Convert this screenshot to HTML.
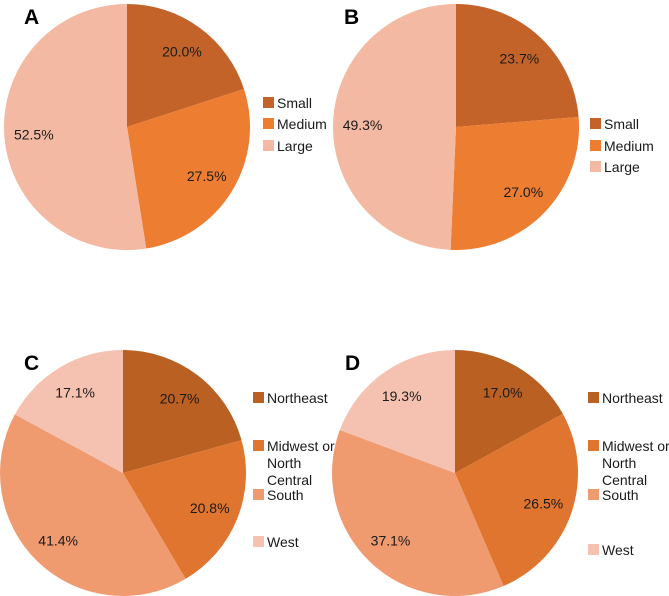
<!DOCTYPE html>
<html><head><meta charset="utf-8"><style>
html,body{margin:0;padding:0;background:#fff;}
svg{display:block;font-family:"Liberation Sans",Arial,sans-serif;}
</style></head><body>
<svg id="chart" width="669" height="596" viewBox="0 0 669 596"></svg>
<script>
const sizeCategories = ["Small","Medium","Large"];
const valuesA = [20.0, 27.5, 52.5];
const valuesB = [23.7, 27.0, 49.3];
const regionCategories = ["Northeast","Midwest or North Central","South","West"];
const valuesC = [20.7, 20.8, 41.4, 17.1];
const valuesD = [17.0, 26.5, 37.1, 19.3];
const sizeColors = ["#C3632A","#ED7D31","#F4B9A2"];
const regionColors = ["#B96022","#E07530","#F09A70","#F5C2B2"];

const NS="http://www.w3.org/2000/svg";
const svg=document.getElementById('chart');
function mk(tag,attrs,parent){const e=document.createElementNS(NS,tag);for(const k in attrs)e.setAttribute(k,attrs[k]);(parent||svg).appendChild(e);return e;}

const panels=[
 {id:"a",letter:"A",lx:24,ly:24,cx:127,cy:127,r:123,vals:valuesA,cats:sizeCategories,cols:sizeColors,legX:263,legY:[103,124,146]},
 {id:"b",letter:"B",lx:344,ly:24,cx:456,cy:127,r:123,vals:valuesB,cats:sizeCategories,cols:sizeColors,legX:590,legY:[124,146,167]},
 {id:"c",letter:"C",lx:24,ly:370,cx:123,cy:473,r:123,vals:valuesC,cats:regionCategories,cols:regionColors,legX:253,legY:[398,446,495,542]},
 {id:"d",letter:"D",lx:345,ly:370,cx:455,cy:473,r:123,vals:valuesD,cats:regionCategories,cols:regionColors,legX:588,legY:[398,446,495,550]}
];

panels.forEach(p=>{
  const g=mk('g',{});
  
  
  const t=mk('text',{x:p.lx,y:p.ly,'font-size':21,'font-weight':'bold',fill:'#000'},g);
  t.textContent=p.letter;
  
  
  const total=p.vals.reduce((a,b)=>a+b,0);
  let a0=0;
  p.vals.forEach((v,i)=>{
    const a1=a0+v/total*2*Math.PI;
    const x0=p.cx+p.r*Math.sin(a0),y0=p.cy-p.r*Math.cos(a0);
    const x1=p.cx+p.r*Math.sin(a1),y1=p.cy-p.r*Math.cos(a1);
    const large=(a1-a0)>Math.PI?1:0;
    const s=mk('path',{d:`M${p.cx},${p.cy}L${x0},${y0}A${p.r},${p.r} 0 ${large} 1 ${x1},${y1}Z`,fill:p.cols[i]},g);
    
    
    const am=(a0+a1)/2;
    const lr=p.r*0.76;
    const lb=mk('text',{x:p.cx+lr*Math.sin(am),y:p.cy-lr*Math.cos(am)+5,'font-size':14,'text-anchor':'middle',fill:'#1a1a1a'},g);
    lb.textContent=v.toFixed(1)+'%';
    
    
    a0=a1;
  });
  p.cats.forEach((c,i)=>{
    const y=p.legY[i];
    const sq=mk('rect',{x:p.legX,y:y-6,width:11,height:11,fill:p.cols[i]},g);
    
    
    const words=c==="Midwest or North Central"?["Midwest or","North","Central"]:[c];
    words.forEach((w,j)=>{
      const tx=mk('text',{x:p.legX+14,y:y+5+j*17,'font-size':14,fill:'#1a1a1a'},g);
      tx.textContent=w;
      
      
    });
  });
});
</script>
</body></html>
